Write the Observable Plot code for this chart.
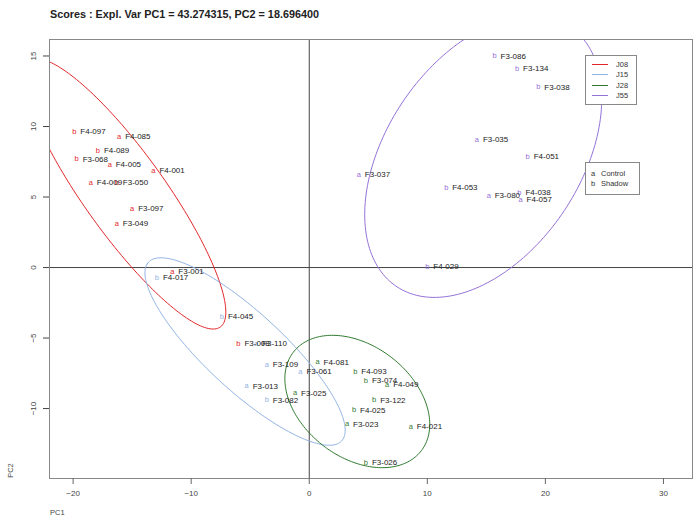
<!DOCTYPE html>
<html><head><meta charset="utf-8">
<script src="https://cdn.jsdelivr.net/npm/d3@7"></script>
<script src="https://cdn.jsdelivr.net/npm/@observablehq/plot@0.6"></script>
<style>
body{margin:0;background:#fff;font-family:"Liberation Sans",Arial,sans-serif;}
#wrap{position:relative;width:697px;height:520px;}
#title{height:28px;line-height:28px;padding-left:50px;font-size:10.8px;font-weight:bold;color:#222;}
.lg{position:absolute;border:1px solid #888;background:#fff;font-size:7.5px;color:#333;}
.row{display:flex;align-items:center;height:10.5px;}
.sw{width:16px;height:0;border-top:1.5px solid;margin:0 8px 0 6px;}
.mk{width:10px;margin-left:5px;}
</style></head><body>
<div id="wrap">
<div id="title">Scores : Expl. Var PC1 = 43.274315, PC2 = 18.696400</div>
<div id="chart"></div>
<div id="leg1" class="lg" style="left:585px;top:55px;width:50px;padding:3px 0;"></div>
<div id="leg2" class="lg" style="left:585px;top:162px;width:53px;padding:5px 0;"></div>
</div>
<script>
// ---- data ----
const sampleLabels = ["F4-097","F4-085","F4-089","F3-068","F4-005","F4-001","F4-009","F3-050","F3-097","F3-049","F3-001","F3-008",
  "F4-017","F4-045","F3-110","F3-109","F3-061","F3-013","F3-082",
  "F4-081","F4-093","F3-074","F4-049","F3-025","F3-122","F4-025","F3-023","F4-021","F3-026",
  "F3-086","F3-134","F3-038","F3-035","F4-051","F3-037","F4-053","F3-080","F4-038","F4-057","F4-029"];
const pc1Values = [-19.9,-16.1,-17.9,-19.7,-16.9,-13.2,-18.5,-16.3,-15.0,-16.3,-11.6,-6.0,
  -12.9,-7.4,-4.5,-3.6,-0.75,-5.3,-3.6,
  0.7,3.9,4.8,6.6,-1.2,5.5,3.8,3.2,8.6,4.8,
  15.7,17.6,19.4,14.2,18.5,4.2,11.6,15.2,17.8,17.9,10.0];
const pc2Values = [9.65,9.3,8.3,7.7,7.3,6.9,6.0,6.0,4.2,3.1,-0.3,-5.4,
  -0.7,-3.5,-5.4,-6.9,-7.4,-8.4,-9.4,
  -6.7,-7.4,-8.0,-8.3,-8.9,-9.4,-10.1,-11.1,-11.3,-13.8,
  15.0,14.1,12.8,9.1,7.9,6.6,5.7,5.1,5.3,4.8,0.1];
const groupValues = [...Array(12).fill("J08"), ...Array(7).fill("J15"), ...Array(10).fill("J28"), ...Array(11).fill("J55")];
const conditionValues = ["b","a","b","b","a","a","a","b","a","a","a","b",
  "b","b","a","a","a","a","b",
  "a","b","b","a","a","b","b","a","a","b",
  "b","b","b","a","b","a","b","a","b","a","b"];
const groups = ["J08","J15","J28","J55"];
const groupColors = ["#e3262b","#92b4e3","#2f7a2f","#9472d8"];
const conditions = ["a","b"];
const conditionNames = ["Control","Shadow"];
const xTicks = [-20,-10,0,10,20,30];
const yTicks = [-10,-5,0,5,10,15];
const ellipseT = 2.2; // ellipse radius in standard deviations

// ---- build ----
const rows = sampleLabels.map((s,i)=>({label:s,x:pc1Values[i],y:pc2Values[i],g:groupValues[i],c:conditionValues[i]}));
const color = d3.scaleOrdinal(groups, groupColors);

function ellipse(g){
  const pts = rows.filter(r=>r.g===g);
  const n = pts.length;
  const mx = d3.mean(pts,d=>d.x), my = d3.mean(pts,d=>d.y);
  let sxx=0,syy=0,sxy=0;
  for(const p of pts){sxx+=(p.x-mx)**2;syy+=(p.y-my)**2;sxy+=(p.x-mx)*(p.y-my);}
  sxx/=n-1;syy/=n-1;sxy/=n-1;
  const tr=sxx+syy, det=sxx*syy-sxy*sxy;
  const l1=tr/2+Math.sqrt(tr*tr/4-det), l2=tr/2-Math.sqrt(tr*tr/4-det);
  const ang=Math.atan2(l1-sxx, sxy);
  const out=[];
  for(let k=0;k<=200;k++){
    const th=2*Math.PI*k/200;
    const a=ellipseT*Math.sqrt(l1)*Math.cos(th), b=ellipseT*Math.sqrt(l2)*Math.sin(th);
    out.push({g, x:mx+a*Math.cos(ang)-b*Math.sin(ang), y:my+a*Math.sin(ang)+b*Math.cos(ang)});
  }
  return out;
}
const ell = groups.flatMap(ellipse);

const chart = Plot.plot({
  width:697, height:492,
  marginLeft:49, marginRight:5, marginTop:11, marginBottom:42,
  x:{domain:[-22.0,32.46]},
  y:{domain:[-14.96,16.17]},
  style:{fontFamily:"Liberation Sans, Arial, sans-serif", background:"#fff"},
  marks:[
    Plot.ruleX([0],{stroke:"#444",strokeWidth:1}),
    Plot.ruleY([0],{stroke:"#444",strokeWidth:1}),
    Plot.line(ell,{x:"x",y:"y",z:"g",stroke:d=>color(d.g),strokeWidth:1,clip:true,curve:"linear"}),
    Plot.text(rows,{x:"x",y:"y",text:"c",fill:d=>color(d.g),fontSize:7.5}),
    Plot.text(rows,{x:"x",y:"y",text:"label",fill:"#222",fontSize:8,textAnchor:"start",dx:6}),
    Plot.frame({stroke:"#888"}),
    Plot.axisX({ticks:xTicks,tickSize:6,tickPadding:6,fontSize:8,stroke:"#666",label:null,color:"#444"}),
    Plot.axisY({ticks:yTicks,tickSize:6,tickPadding:8,fontSize:8,tickRotate:-90,label:null,color:"#444"})
  ]
});
document.getElementById("chart").appendChild(chart);

// axis titles
const wrap=document.getElementById("wrap");
const pc1=document.createElement("div");
pc1.textContent="PC1";
pc1.style.cssText="position:absolute;left:50px;top:508px;font-size:7.5px;color:#444;";
wrap.appendChild(pc1);
const pc2=document.createElement("div");
pc2.textContent="PC2";
pc2.style.cssText="position:absolute;left:3px;top:466px;font-size:7.5px;color:#444;transform:rotate(-90deg);transform-origin:center;";
wrap.appendChild(pc2);

// legends
const l1=document.getElementById("leg1");
groups.forEach((g,i)=>{
  const r=document.createElement("div");r.className="row";
  r.innerHTML=`<span class="sw" style="border-color:${groupColors[i]}"></span><span>${g}</span>`;
  l1.appendChild(r);
});
const l2=document.getElementById("leg2");
conditions.forEach((c,i)=>{
  const r=document.createElement("div");r.className="row";
  r.innerHTML=`<span class="mk">${c}</span><span>${conditionNames[i]}</span>`;
  l2.appendChild(r);
});
</script>
</body></html>
